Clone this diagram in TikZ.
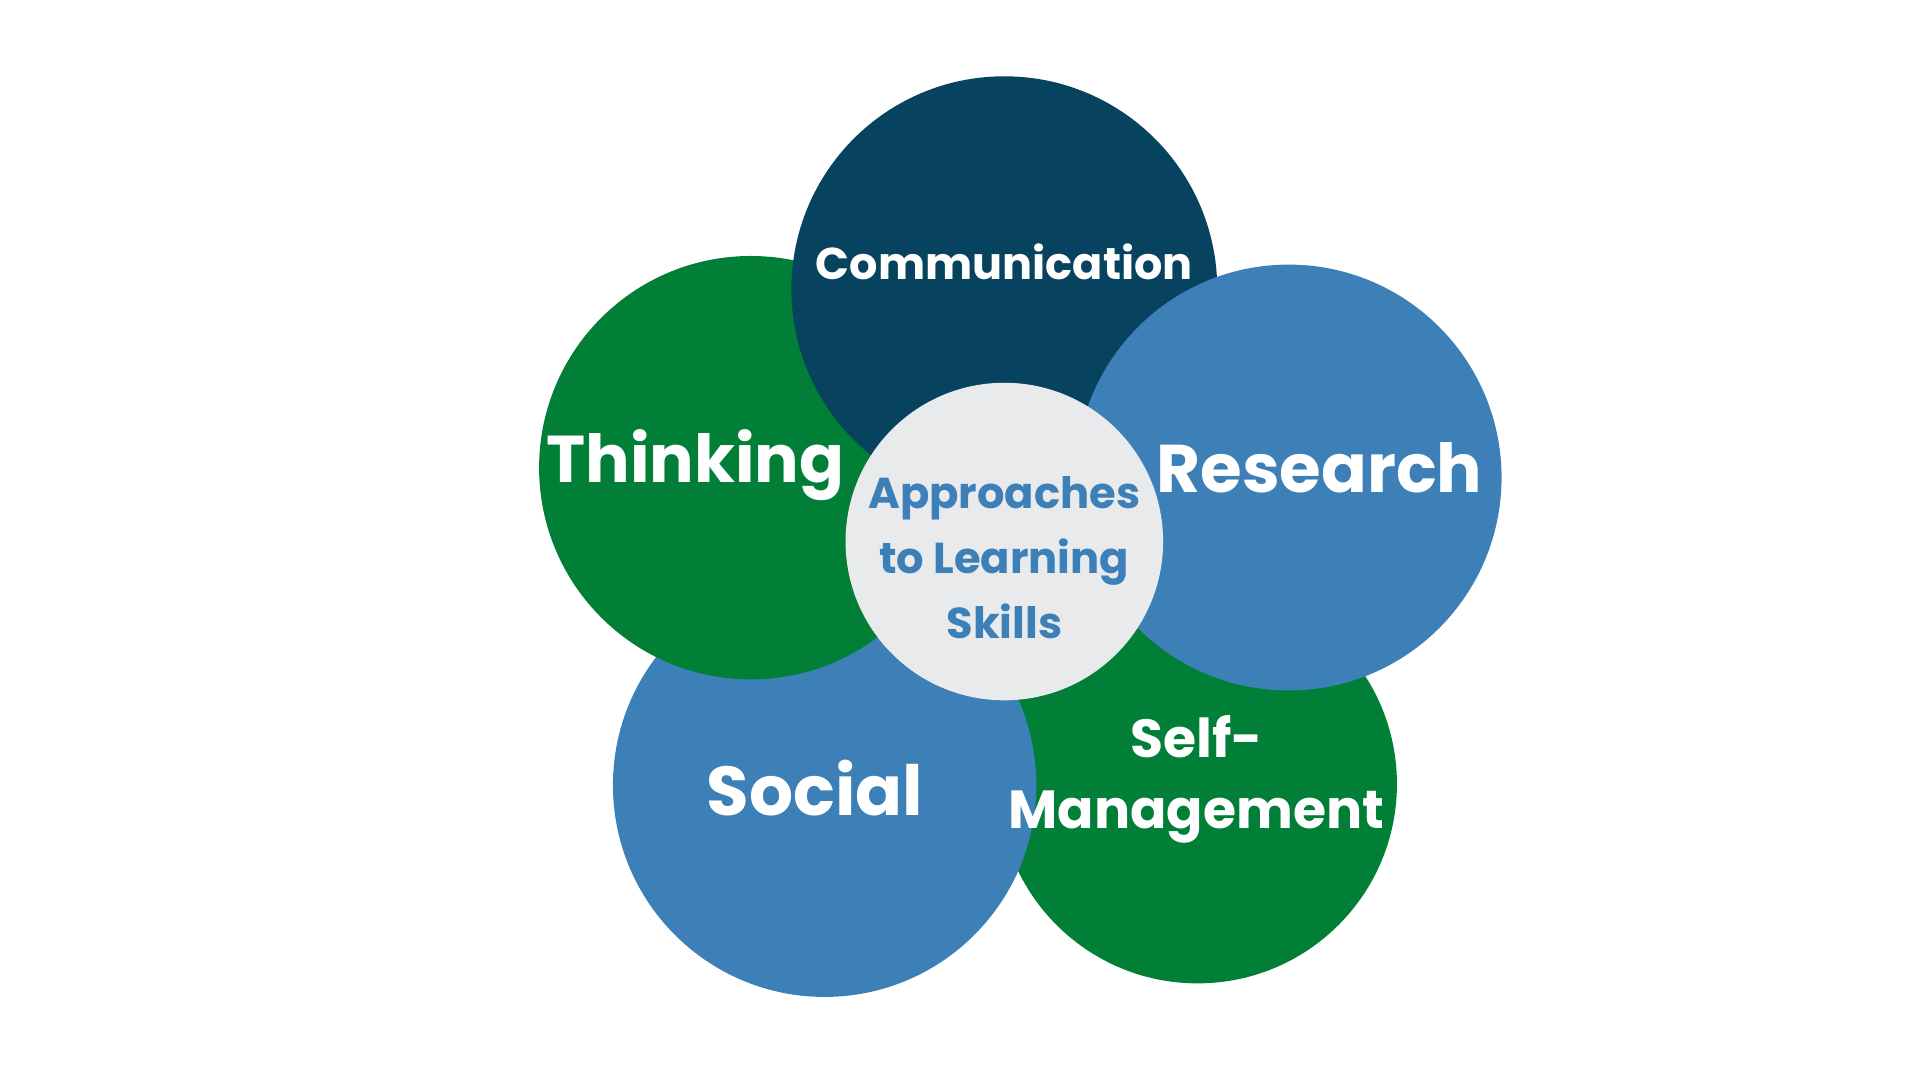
\documentclass[tikz,border=0pt]{standalone}
\usepackage{fontspec}
\setmainfont{Poppins}[BoldFont={* Bold}]
\definecolor{navy}{HTML}{07435F}
\definecolor{leafgreen}{HTML}{017F37}
\definecolor{skyblue}{HTML}{3C80B7}
\definecolor{paleGrey}{HTML}{E8EAEC}
\tikzset{
  disc/.style={circle, inner sep=0pt},
  skill/.style={text=white, align=center, inner sep=0pt},
}
\begin{document}
\begin{tikzpicture}
\useasboundingbox (0,0) rectangle (15.6,8.78);
% circles
\node[disc, fill=leafgreen, minimum size=3.24cm] (selfmgmt) at (9.73,2.41) {};
\node[disc, fill=skyblue, minimum size=3.44cm] (social) at (6.70,2.40) {};
\node[disc, fill=leafgreen, minimum size=3.44cm] (thinking) at (6.10,4.98) {};
\node[disc, fill=navy, minimum size=3.46cm] (comm) at (8.16,6.43) {};
\node[disc, fill=skyblue, minimum size=3.46cm] (research) at (10.47,4.90) {};
\node[disc, fill=paleGrey, minimum size=2.58cm] (ctr) at (8.16,4.38) {};
% labels
\node[skill, font=\bfseries\fontsize{10.3}{13}\selectfont] (commtext) at (8.16,6.65) {Communication};
\node[skill, font=\bfseries\fontsize{15.3}{19}\selectfont] (thinktext) at (5.65,5.00) {Thinking};
\node[skill, font=\bfseries\fontsize{15.6}{19}\selectfont] (restext) at (10.72,4.98) {Research};
\node[skill, font=\bfseries\fontsize{16}{19}\selectfont] (soctext) at (6.62,2.38) {Social};
\node[skill, font=\bfseries\fontsize{12.4}{16.5}\selectfont] (selftext) at (9.72,2.45) {Self-\\Management};
\node[skill, text=skyblue, font=\bfseries\fontsize{10}{15}\selectfont] (ctrtext) at (8.16,4.25) {Approaches\\to Learning\\Skills};
\end{tikzpicture}
\end{document}
